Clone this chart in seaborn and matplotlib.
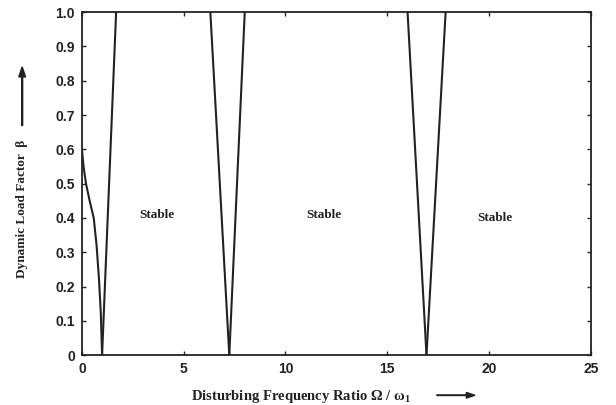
import matplotlib
matplotlib.use("Agg")
import matplotlib.pyplot as plt
import seaborn as sns
import pandas as pd

# Stability boundary branches (frequency ratio, load factor)
b1_x = [0.0, 0.08, 0.20, 0.38, 0.58, 0.72, 0.84, 0.93, 0.99]
b1_y = [0.60, 0.55, 0.50, 0.45, 0.40, 0.32, 0.22, 0.12, 0.00]
b2_x = [0.99, 1.68]
b2_y = [0.00, 1.00]
b3_x = [6.31, 7.24]
b3_y = [1.00, 0.00]
b4_x = [7.24, 8.00]
b4_y = [0.00, 1.00]
b5_x = [16.00, 16.93]
b5_y = [1.00, 0.00]
b6_x = [16.93, 17.87]
b6_y = [0.00, 1.00]

label_text = ["Stable", "Stable", "Stable"]
label_x = [3.7, 11.9, 20.3]
label_y = [0.41, 0.41, 0.40]

x_ticks = [0, 5, 10, 15, 20, 25]
y_ticks = [0, 0.1, 0.2, 0.3, 0.4, 0.5, 0.6, 0.7, 0.8, 0.9, 1.0]
y_ticklabels = ["0", "0.1", "0.2", "0.3", "0.4", "0.5", "0.6", "0.7", "0.8", "0.9", "1.0"]

frames = []
for i, (xs, ys) in enumerate([(b1_x, b1_y), (b2_x, b2_y), (b3_x, b3_y),
                              (b4_x, b4_y), (b5_x, b5_y), (b6_x, b6_y)]):
    frames.append(pd.DataFrame({"x": xs, "y": ys, "branch": i}))
df = pd.concat(frames, ignore_index=True)

sns.set_style("ticks")
plt.rcParams["mathtext.fontset"] = "custom"
plt.rcParams["mathtext.rm"] = "Liberation Serif:bold"
plt.rcParams["mathtext.it"] = "Liberation Serif:bold"
plt.rcParams["mathtext.bf"] = "Liberation Serif:bold"

fig = plt.figure(figsize=(6.16, 4.05), dpi=100)
ax = fig.add_axes([0.133, 0.123, 0.826, 0.847])

sns.lineplot(data=df, x="x", y="y", units="branch", estimator=None, sort=False,
             color="#222222", linewidth=1.5, ax=ax, legend=False)

ax.set_xlim(0, 25)
ax.set_ylim(0, 1.0)
ax.set_xticks(x_ticks)
ax.set_xticklabels([str(t) for t in x_ticks])
ax.set_yticks(y_ticks)
ax.set_yticklabels(y_ticklabels)
ax.tick_params(direction="in", top=True, right=True, length=3, width=1,
               labelsize=10, pad=5)
for lab in ax.get_xticklabels() + ax.get_yticklabels():
    lab.set_fontfamily("Liberation Sans")
    lab.set_fontweight("bold")
    lab.set_color("#222222")
for sp in ax.spines.values():
    sp.set_linewidth(1.3)
    sp.set_color("#222222")
ax.set_xlabel("")
ax.set_ylabel("")

for t, x, y in zip(label_text, label_x, label_y):
    ax.text(x, y, t, ha="center", va="center", fontsize=9.5,
            fontfamily="Liberation Serif", fontweight="bold", color="#222222")

fig.text(0.489, 0.022, "Disturbing Frequency Ratio \u03a9 / \u03c9$_1$", ha="center", va="center",
         fontsize=10.5, fontfamily="Liberation Serif", fontweight="bold", color="#222222")
fig.patches.append(matplotlib.patches.FancyArrow(0.709, 0.024, 0.062, 0, width=0.001,
                   head_width=0.014, head_length=0.014, length_includes_head=True,
                   transform=fig.transFigure, color="#222222"))

fig.text(0.036, 0.484, "Dynamic Load Factor  \u03b2", ha="center", va="center", rotation=90,
         fontsize=9.5, fontfamily="Liberation Serif", fontweight="bold", color="#222222")
fig.patches.append(matplotlib.patches.FancyArrow(0.036, 0.69, 0, 0.145, width=0.0015,
                   head_width=0.011, head_length=0.025, length_includes_head=True,
                   transform=fig.transFigure, color="#222222"))

fig.savefig("out.png", dpi=100)
